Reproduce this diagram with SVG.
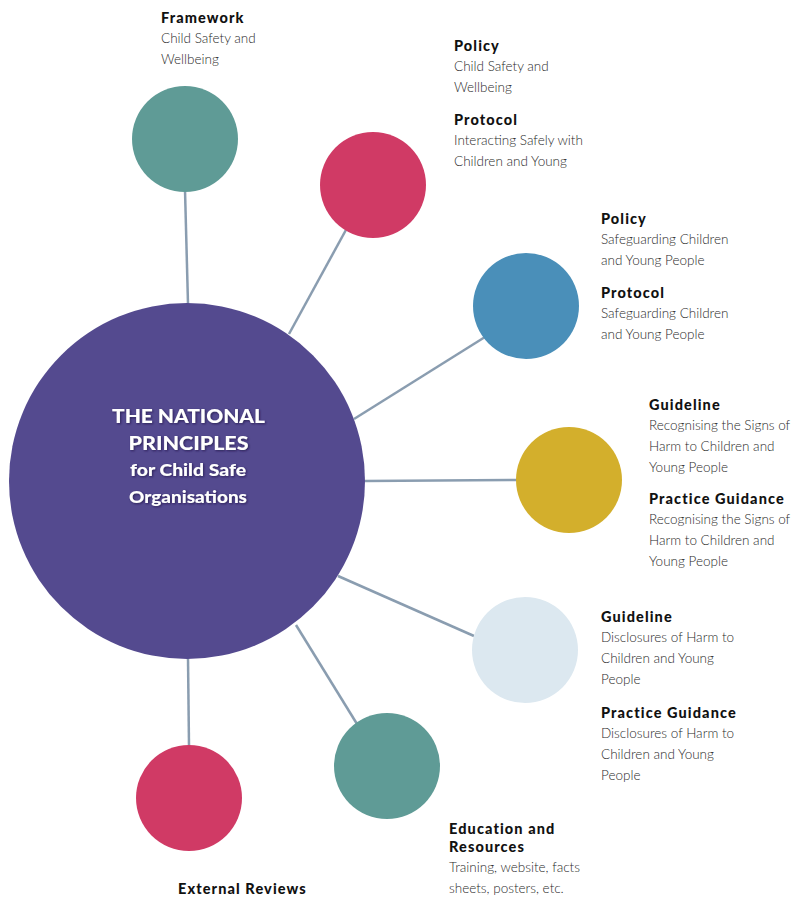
<svg xmlns="http://www.w3.org/2000/svg" width="799" height="897" viewBox="0 0 799 897">
  <defs>
    <style>
      .link { stroke: #8a9db0; stroke-width: 2.5; fill: none; }
      .head { font-family: Lato, "Liberation Sans", sans-serif; font-weight: 900; font-size: 14.5px; letter-spacing: 1.1px; fill: #111; }
      .body { font-family: Lato, "Liberation Sans", sans-serif; font-weight: 300; font-size: 13.5px; fill: #2b2b2b; }
      .hub-text { font-family: Lato, "Liberation Sans", sans-serif; font-weight: 900; fill: #fff; text-anchor: middle; }
    </style>
    <filter id="shadow" x="-10%" y="-30%" width="120%" height="160%">
      <feDropShadow dx="1" dy="1" stdDeviation="0.8" flood-color="#1c1740" flood-opacity="0.7"/>
    </filter>
  </defs>

  <rect width="799" height="897" fill="#fff"/>

  <!-- spokes from the hub to each satellite -->
  <g id="connectors">
    <line class="link" x1="185" y1="190" x2="188" y2="304"/>
    <line class="link" x1="347" y1="228" x2="289" y2="334"/>
    <line class="link" x1="485" y1="337" x2="354" y2="419"/>
    <line class="link" x1="517" y1="480" x2="365" y2="481"/>
    <line class="link" x1="474" y1="636" x2="338" y2="576"/>
    <line class="link" x1="357" y1="724" x2="296" y2="625"/>
    <line class="link" x1="189" y1="746" x2="188" y2="658"/>
  </g>

  <!-- central hub -->
  <g id="hub">
    <circle cx="187" cy="481" r="178" fill="#544a8f"/>
    <g filter="url(#shadow)">
      <text class="hub-text" x="188.5" y="423" font-size="18" textLength="153" lengthAdjust="spacingAndGlyphs">THE NATIONAL</text>
      <text class="hub-text" x="188.5" y="450" font-size="18" textLength="120" lengthAdjust="spacingAndGlyphs">PRINCIPLES</text>
      <text class="hub-text" x="188" y="476" font-size="16" textLength="116" lengthAdjust="spacingAndGlyphs">for Child Safe</text>
      <text class="hub-text" x="188" y="503" font-size="16" textLength="118" lengthAdjust="spacingAndGlyphs">Organisations</text>
    </g>
  </g>

  <g id="framework">
    <circle cx="185" cy="139" r="53" fill="#5f9b96"/>
    <text class="head" x="161" y="23">Framework</text>
    <text class="body" x="161" y="43">Child Safety and</text>
    <text class="body" x="161" y="64">Wellbeing</text>
  </g>

  <g id="policy-protocol-safety">
    <circle cx="373" cy="185" r="53" fill="#d03a65"/>
    <text class="head" x="454" y="51">Policy</text>
    <text class="body" x="454" y="71">Child Safety and</text>
    <text class="body" x="454" y="92">Wellbeing</text>
    <text class="head" x="454" y="125">Protocol</text>
    <text class="body" x="454" y="145">Interacting Safely with</text>
    <text class="body" x="454" y="166">Children and Young</text>
  </g>

  <g id="policy-protocol-safeguarding">
    <circle cx="526" cy="306" r="53" fill="#4a8fb9"/>
    <text class="head" x="601" y="224">Policy</text>
    <text class="body" x="601" y="244">Safeguarding Children</text>
    <text class="body" x="601" y="265">and Young People</text>
    <text class="head" x="601" y="298">Protocol</text>
    <text class="body" x="601" y="318">Safeguarding Children</text>
    <text class="body" x="601" y="339">and Young People</text>
  </g>

  <g id="recognising-signs">
    <circle cx="569" cy="480" r="53" fill="#d3af2c"/>
    <text class="head" x="649" y="410">Guideline</text>
    <text class="body" x="649" y="430">Recognising the Signs of</text>
    <text class="body" x="649" y="451">Harm to Children and</text>
    <text class="body" x="649" y="472">Young People</text>
    <text class="head" x="649" y="504">Practice Guidance</text>
    <text class="body" x="649" y="524">Recognising the Signs of</text>
    <text class="body" x="649" y="545">Harm to Children and</text>
    <text class="body" x="649" y="566">Young People</text>
  </g>

  <g id="disclosures">
    <circle cx="525" cy="650" r="53" fill="#dce8f0"/>
    <text class="head" x="601" y="622">Guideline</text>
    <text class="body" x="601" y="642">Disclosures of Harm to</text>
    <text class="body" x="601" y="663">Children and Young</text>
    <text class="body" x="601" y="684">People</text>
    <text class="head" x="601" y="718">Practice Guidance</text>
    <text class="body" x="601" y="738">Disclosures of Harm to</text>
    <text class="body" x="601" y="759">Children and Young</text>
    <text class="body" x="601" y="780">People</text>
  </g>

  <g id="education">
    <circle cx="387" cy="766" r="53" fill="#5f9b96"/>
    <text class="head" x="449" y="834">Education and</text>
    <text class="head" x="449" y="852">Resources</text>
    <text class="body" x="449" y="872">Training, website, facts</text>
    <text class="body" x="449" y="893">sheets, posters, etc.</text>
  </g>

  <g id="external-reviews">
    <circle cx="189" cy="798" r="53" fill="#d03a65"/>
    <text class="head" x="178" y="894">External Reviews</text>
  </g>
</svg>
